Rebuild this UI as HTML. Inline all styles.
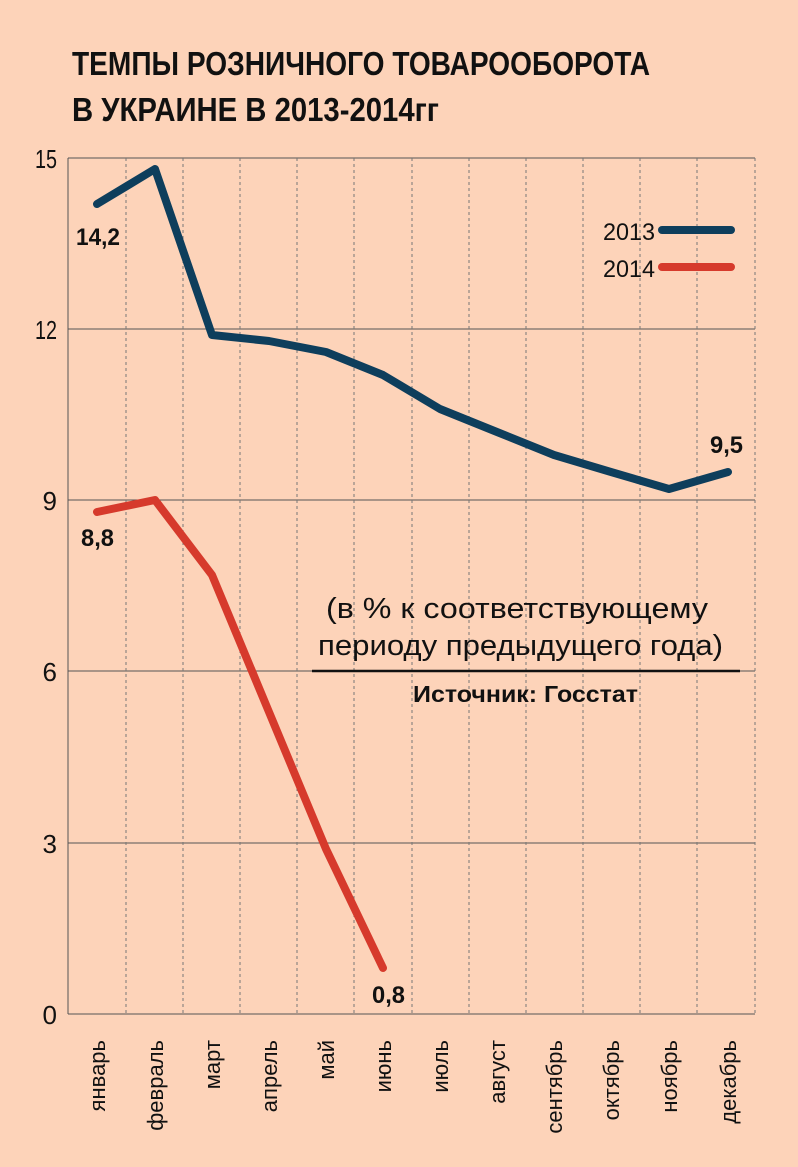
<!DOCTYPE html>
<html><head><meta charset="utf-8"><style>
html,body{margin:0;padding:0;background:#fdd3b9;}
</style></head><body>
<svg width="798" height="1167" xmlns="http://www.w3.org/2000/svg" style="display:block">
<rect width="798" height="1167" fill="#fdd3b9"/>
<g font-family="Liberation Sans, sans-serif" font-weight="bold" font-size="33" fill="#111">
<text x="72" y="75" textLength="578" lengthAdjust="spacingAndGlyphs">ТЕМПЫ РОЗНИЧНОГО ТОВАРООБОРОТА</text>
<text x="72" y="121" textLength="367" lengthAdjust="spacingAndGlyphs">В УКРАИНЕ В 2013-2014гг</text>
</g>
<g stroke="#555" stroke-width="1">
<line x1="68" y1="158" x2="755" y2="158"/>
<line x1="68" y1="329" x2="755" y2="329"/>
<line x1="68" y1="500" x2="755" y2="500"/>
<line x1="68" y1="671" x2="755" y2="671"/>
<line x1="68" y1="843" x2="755" y2="843"/>
<line x1="68" y1="1014" x2="755" y2="1014"/>
<line x1="68" y1="158" x2="68" y2="1014"/>
</g>
<g stroke="#777" stroke-width="1" stroke-dasharray="3,3">
<line x1="126" y1="158" x2="126" y2="1014"/><line x1="183" y1="158" x2="183" y2="1014"/>
<line x1="240" y1="158" x2="240" y2="1014"/><line x1="297" y1="158" x2="297" y2="1014"/>
<line x1="354" y1="158" x2="354" y2="1014"/><line x1="412" y1="158" x2="412" y2="1014"/>
<line x1="469" y1="158" x2="469" y2="1014"/><line x1="526" y1="158" x2="526" y2="1014"/>
<line x1="583" y1="158" x2="583" y2="1014"/><line x1="640" y1="158" x2="640" y2="1014"/>
<line x1="697" y1="158" x2="697" y2="1014"/><line x1="755" y1="158" x2="755" y2="1014"/>
</g>
<g font-family="Liberation Sans, sans-serif" font-size="26" fill="#111" text-anchor="end">
<text x="57" y="168" textLength="22" lengthAdjust="spacingAndGlyphs">15</text>
<text x="57" y="339" textLength="22" lengthAdjust="spacingAndGlyphs">12</text>
<text x="57" y="510">9</text>
<text x="57" y="681">6</text><text x="57" y="853">3</text><text x="57" y="1024">0</text>
</g>
<polyline fill="none" stroke="#0e3e5c" stroke-width="8" stroke-linecap="round" stroke-linejoin="round"
points="97,204 155,169 212,335 269,341 326,352 383,375 440,409 497,432 554,455 611,472 669,489 728,472"/>
<polyline fill="none" stroke="#d63a2c" stroke-width="8" stroke-linecap="round" stroke-linejoin="round"
points="97,512 155,500 212,575 269,712 326,849 383,968"/>
<line x1="662" y1="230" x2="731" y2="230" stroke="#0e3e5c" stroke-width="8" stroke-linecap="round"/>
<line x1="662" y1="267" x2="731" y2="267" stroke="#d63a2c" stroke-width="8" stroke-linecap="round"/>
<g font-family="Liberation Sans, sans-serif" font-size="24" fill="#111">
<text x="603" y="240" textLength="52" lengthAdjust="spacingAndGlyphs">2013</text>
<text x="603" y="277" textLength="52" lengthAdjust="spacingAndGlyphs">2014</text>
</g>
<g font-family="Liberation Sans, sans-serif" font-weight="bold" font-size="24" fill="#111">
<text x="76" y="245" textLength="44" lengthAdjust="spacingAndGlyphs">14,2</text>
<text x="81" y="546" textLength="33" lengthAdjust="spacingAndGlyphs">8,8</text>
<text x="372" y="1003" textLength="33" lengthAdjust="spacingAndGlyphs">0,8</text>
<text x="710" y="453" textLength="33" lengthAdjust="spacingAndGlyphs">9,5</text>
</g>
<g font-family="Liberation Sans, sans-serif" font-size="29" fill="#111">
<text x="326" y="618" textLength="382" lengthAdjust="spacingAndGlyphs">(в % к соответствующему</text>
<text x="318" y="655" textLength="405" lengthAdjust="spacingAndGlyphs">периоду предыдущего года)</text>
</g>
<line x1="312" y1="671" x2="740" y2="671" stroke="#111" stroke-width="2.5"/>
<text x="413" y="702" font-family="Liberation Sans, sans-serif" font-weight="bold" font-size="23" fill="#111" textLength="225" lengthAdjust="spacingAndGlyphs">Источник: Госстат</text>
<g font-family="Liberation Sans, sans-serif" font-size="22" fill="#111" text-anchor="end">
<text transform="translate(105,1040) rotate(-90)">январь</text>
<text transform="translate(163,1040) rotate(-90)">февраль</text>
<text transform="translate(220,1040) rotate(-90)">март</text>
<text transform="translate(277,1040) rotate(-90)">апрель</text>
<text transform="translate(334,1040) rotate(-90)">май</text>
<text transform="translate(391,1040) rotate(-90)">июнь</text>
<text transform="translate(448,1040) rotate(-90)">июль</text>
<text transform="translate(505,1040) rotate(-90)">август</text>
<text transform="translate(562,1040) rotate(-90)">сентябрь</text>
<text transform="translate(619,1040) rotate(-90)">октябрь</text>
<text transform="translate(677,1040) rotate(-90)">ноябрь</text>
<text transform="translate(736,1040) rotate(-90)">декабрь</text>
</g>
</svg>
</body></html>
